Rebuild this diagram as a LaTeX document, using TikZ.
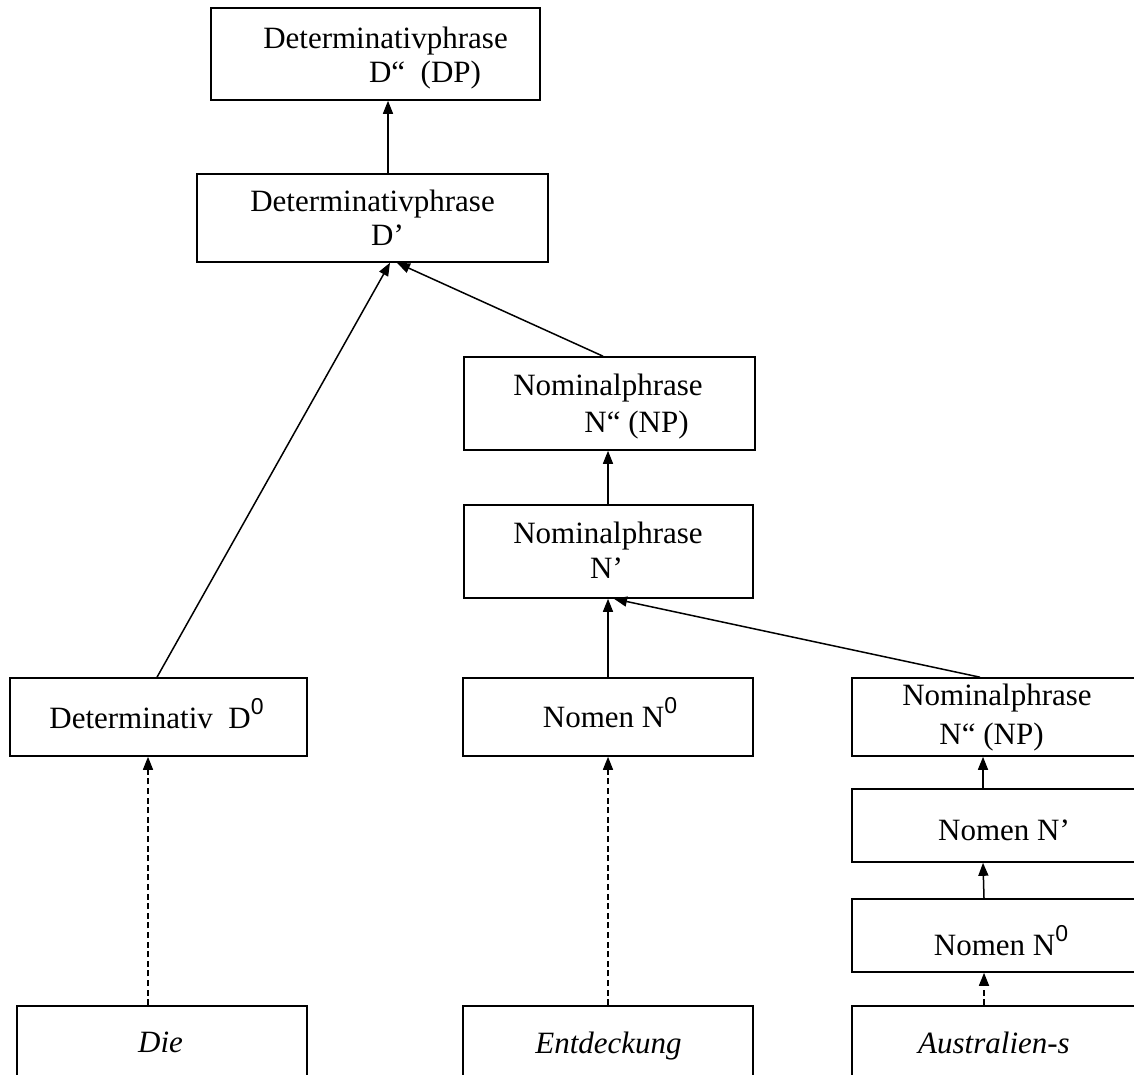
\documentclass[tikz,border=0pt]{standalone}
\usepackage{fontspec}
\setmainfont{Liberation Serif}
\setsansfont{Liberation Sans}
\usetikzlibrary{arrows.meta,calc}

% superscript zero of the bar levels
\newcommand\barzero{\raisebox{0.42em}{\fontsize{11.5}{12}\selectfont\sffamily 0}}

\tikzset{
  box/.style={draw=black, line width=0.8pt, rectangle, inner sep=0pt},
  lbl/.style={anchor=base, inner sep=0pt, font=\fontsize{15.5}{18}\selectfont},
  arr/.style={-{Triangle[length=6.5pt,width=5pt]}, line width=0.75pt, black},
  dsh/.style={arr, dash pattern=on 3pt off 1.8pt},
}

% #1 name, #2/#3 centre, #4/#5 width/height (picture units)
\newcommand\phrasebox[5]{%
  \node[box, minimum width=#4*0.5pt, minimum height=#5*0.5pt] (#1) at (#2,#3) {};}

\begin{document}
\begin{tikzpicture}[x=0.5pt, y=-0.5pt]
\useasboundingbox (0,0) rectangle (1134,1075);
\clip (0,0) rectangle (1134,1075);

% boxes
\phrasebox{dp}{375.5}{54}{329}{92}
\phrasebox{dbar}{372.5}{218}{351}{88}
\phrasebox{np}{609.5}{403.5}{291}{93}
\phrasebox{nbar}{608.5}{551.5}{289}{93}
\phrasebox{det}{158.5}{717}{297}{78}
\phrasebox{nzero}{608}{717}{290}{78}
\phrasebox{nptwo}{997}{717}{290}{78}
\phrasebox{nbartwo}{997}{825.5}{290}{73}
\phrasebox{nzerotwo}{997}{935.5}{290}{73}
\phrasebox{die}{162}{1048}{290}{84}
\phrasebox{ent}{608}{1048}{290}{84}
\phrasebox{aus}{997}{1048}{290}{84}

% labels
\node[lbl] (dpA) at (385.5,49) {Determinativphrase};
\node[lbl] (dpB) at (425,83) {D“\ \ (DP)};
\node[lbl] (dbarA) at (372.5,212) {Determinativphrase};
\node[lbl] (dbarB) at (387.5,245) {D’};
\node[lbl] (npA) at (608,395) {Nominalphrase};
\node[lbl] (npB) at (636.5,432) {N“ (NP)};
\node[lbl] (nbarA) at (608,543) {Nominalphrase};
\node[lbl] (nbarB) at (606.5,578) {N’};
\node[lbl] (detA) at (156.5,728) {Determinativ\ \ D\barzero};
\node[lbl] (nzeroA) at (610,727) {Nomen N\barzero};
\node[lbl] (nptwoA) at (997,705) {Nominalphrase};
\node[lbl] (nptwoB) at (991.5,744) {N“ (NP)};
\node[lbl] (nbartwoA) at (1004,840) {Nomen N’};
\node[lbl] (nzerotwoA) at (1001,955) {Nomen N\barzero};
\node[lbl] (dieA) at (160.5,1052) {\itshape Die};
\node[lbl] (entA) at (608.5,1053) {\itshape Entdeckung};
\node[lbl] (ausA) at (994,1053) {\itshape Australien-s};

% solid connectors
\draw[arr] ($(dbar.north)+(15.5,0)$) -- ($(dp.south)+(12.5,0)$);
\draw[arr] ($(det.north)+(-1.5,0)$) -- ($(dbar.south)+(17.5,0)$);
\draw[arr] ($(np.north)+(-6.5,0)$) -- ($(dbar.south)+(24.5,0)$);
\draw[arr] ($(nbar.north)+(-0.5,0)$) -- ($(np.south)+(-1.5,0)$);
\draw[arr] (nzero.north) -- ($(nbar.south)+(-0.5,0)$);
\draw[arr] ($(nptwo.north)+(-17,0)$) -- ($(nbar.south)+(5.5,0)$);
\draw[arr] ($(nbartwo.north)+(-14,0)$) -- ($(nptwo.south)+(-14,0)$);
\draw[arr] ($(nzerotwo.north)+(-13,0)$) -- ($(nbartwo.south)+(-14,0)$);

% dashed connectors
\draw[dsh] ($(die.north)+(-14,0)$) -- ($(det.south)+(-10.5,0)$);
\draw[dsh] (ent.north) -- (nzero.south);
\draw[dsh] ($(aus.north)+(-13,0)$) -- ($(nzerotwo.south)+(-13,0)$);
\end{tikzpicture}
\end{document}
